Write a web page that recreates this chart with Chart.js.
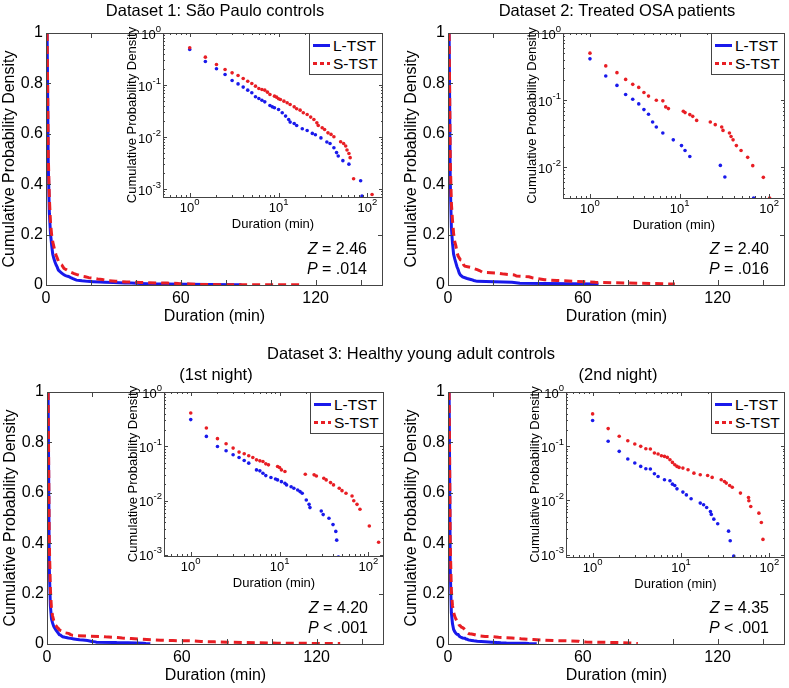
<!DOCTYPE html>
<html>
<head>
<meta charset="utf-8">
<script src="https://cdn.jsdelivr.net/npm/chart.js"></script>
<style>
  html, body { margin: 0; padding: 0; background: #fff; }
  body { width: 789px; height: 688px; position: relative; overflow: hidden; font-family: "Liberation Sans", Arial, sans-serif; }
  canvas { position: absolute; }
  .txt { position: absolute; white-space: nowrap; color: #000; line-height: 1; }
  .leg { position: absolute; width: 72px; height: 40px; border: 1px solid #444; background: #fff; }
  .leg .sw { position: absolute; left: 3px; width: 17px; height: 3px; }
  .leg .lb { position: absolute; left: 23px; font-size: 15.5px; line-height: 15px; color: #000; }
</style>
</head>
<body>
<script>
// Dataset 1: Sao Paulo controls (duration in min, cumulative probability)
const ds1LongDur  = [0.5, 1, 1.5, 2, 2.5, 3, 3.5, 4, 4.5, 5, 5.5, 6, 6.5, 7, 8, 8.5, 9, 10, 11, 12, 13, 13.5, 15, 16, 18.5, 21, 24, 26, 30, 35, 38, 42, 45, 47, 53, 62, 84, 87];
const ds1LongCpd  = [1, 0.48, 0.283, 0.205, 0.159, 0.122, 0.105, 0.091, 0.0795, 0.0707, 0.0592, 0.055, 0.051, 0.0474, 0.0403, 0.038, 0.0364, 0.0338, 0.0292, 0.0252, 0.0217, 0.0193, 0.0182, 0.0166, 0.0144, 0.0133, 0.0117, 0.011, 0.0096, 0.008, 0.0075, 0.0062, 0.005, 0.0043, 0.0035, 0.003, 0.00144, 0.00073];
const ds1ShortDur = [0.5, 1, 1.5, 2, 2.5, 3, 3.5, 4, 4.5, 5, 5.5, 6, 6.5, 7, 7.5, 8, 9, 9.5, 10, 10.5, 11.5, 12.5, 13.5, 15, 16, 17.5, 19, 21, 23, 25, 27, 28, 31, 33, 36, 39, 42, 50, 54, 57, 59, 62, 64, 70, 113];
const ds1ShortCpd = [1, 0.52, 0.343, 0.248, 0.199, 0.171, 0.152, 0.133, 0.118, 0.107, 0.095, 0.0857, 0.0819, 0.0795, 0.0728, 0.0656, 0.061, 0.0583, 0.0542, 0.0526, 0.0489, 0.0454, 0.0422, 0.038, 0.0348, 0.0328, 0.0292, 0.0271, 0.0241, 0.0217, 0.0187, 0.0166, 0.015, 0.0139, 0.012, 0.0112, 0.0101, 0.0081, 0.0075, 0.0067, 0.0056, 0.0048, 0.004, 0.00157, 0.00078];

// Dataset 2: Treated OSA patients
const ds2LongDur  = [0.5, 1, 1.5, 2, 2.5, 3, 3.5, 4, 4.5, 5, 5.5, 6.5, 8.5, 10.5, 11.5, 13, 28.5, 32, 67];
const ds2LongCpd  = [1, 0.412, 0.229, 0.166, 0.1216, 0.1035, 0.088, 0.0724, 0.0617, 0.0473, 0.0398, 0.0324, 0.0257, 0.0211, 0.0178, 0.0145, 0.0107, 0.0072, 0.0035];
const ds2ShortDur = [0.5, 1, 1.5, 2, 2.5, 3, 3.5, 4, 4.5, 5.5, 6.5, 7, 7.5, 11, 11.5, 13, 14, 15.5, 22, 25, 29.5, 30.5, 36, 37.5, 39.5, 43, 48.5, 57.5, 65.5, 86, 101];
const ds2ShortCpd = [1, 0.501, 0.324, 0.257, 0.204, 0.172, 0.155, 0.13, 0.115, 0.1, 0.0977, 0.0794, 0.075, 0.0684, 0.0653, 0.061, 0.0575, 0.05, 0.0473, 0.0432, 0.0398, 0.0355, 0.0324, 0.0288, 0.0257, 0.0211, 0.0178, 0.0141, 0.0106, 0.0071, 0.0035];

// Dataset 3, 1st night
const ds3n1LongDur  = [0.5, 1, 1.5, 2, 2.5, 3, 3.5, 4, 4.5, 5.5, 6, 6.5, 7, 8, 9, 9.5, 10.5, 11.5, 12, 13.5, 14.5, 16, 17, 18, 20, 21.5, 22, 29.5, 31, 36, 40, 43, 44, 46];
const ds3n1LongCpd  = [1, 0.31, 0.152, 0.0993, 0.0826, 0.0697, 0.0621, 0.0547, 0.0488, 0.0367, 0.0352, 0.0318, 0.0288, 0.0265, 0.025, 0.024, 0.0223, 0.0208, 0.0194, 0.018, 0.0168, 0.0156, 0.0146, 0.0136, 0.0102, 0.0085, 0.0074, 0.0064, 0.0055, 0.0047, 0.0036, 0.0027, 0.00186, 0.00091];
const ds3n1ShortDur = [0.5, 1, 1.5, 2, 2.5, 3, 3.5, 4, 4.5, 5, 5.5, 6, 6.5, 7, 7.5, 9.5, 10, 10.5, 11.5, 19.5, 24.5, 26, 31.5, 33.5, 37.5, 40.5, 47, 50.5, 56, 65.5, 68.5, 74.5, 80.5, 102.5, 130.5];
const ds3n1ShortCpd = [1, 0.411, 0.217, 0.138, 0.111, 0.0925, 0.078, 0.0726, 0.0667, 0.0621, 0.0562, 0.0539, 0.0524, 0.0474, 0.0454, 0.0423, 0.0406, 0.0367, 0.0342, 0.0305, 0.0297, 0.0284, 0.0257, 0.024, 0.0214, 0.0194, 0.0168, 0.0152, 0.0136, 0.0121, 0.0099, 0.0085, 0.0069, 0.0034, 0.0017];

// Dataset 3, 2nd night
const ds3n2LongDur  = [0.5, 1, 1.5, 2, 2.5, 3, 3.5, 4, 4.5, 5, 5.5, 6.5, 7.5, 8, 8.5, 9, 10.5, 11.5, 13, 16.5, 18, 19.5, 21.5, 22, 23.5, 26, 34.5, 36, 39.5];
const ds3n2LongCpd  = [1, 0.297, 0.123, 0.0802, 0.0578, 0.0488, 0.0423, 0.0383, 0.0378, 0.031, 0.0276, 0.024, 0.023, 0.0199, 0.0188, 0.0163, 0.0142, 0.0126, 0.0107, 0.0089, 0.0083, 0.0074, 0.0062, 0.0055, 0.0045, 0.0037, 0.0027, 0.0018, 0.00094];
const ds3n2ShortDur = [0.5, 1, 1.5, 2, 2.5, 3, 3.5, 4, 4.5, 5, 5.5, 6, 6.5, 7, 7.5, 8, 8.5, 9, 9.5, 10.5, 12, 14, 16.5, 20, 22.5, 28.5, 31, 32.5, 35.5, 38, 47, 58, 58.5, 61.5, 76, 81, 84.5];
const ds3n2ShortCpd = [1, 0.394, 0.211, 0.152, 0.126, 0.1097, 0.0993, 0.0899, 0.0886, 0.0747, 0.0716, 0.0667, 0.0648, 0.0621, 0.0562, 0.0502, 0.0454, 0.0423, 0.0406, 0.0394, 0.0367, 0.0318, 0.0297, 0.0288, 0.0265, 0.024, 0.0223, 0.0208, 0.0188, 0.0175, 0.0136, 0.0113, 0.0098, 0.0077, 0.0058, 0.0039, 0.0019];

const seriesNames = ['L-TST', 'S-TST'];
const panelTitles = ['Dataset 1: São Paulo controls', 'Dataset 2: Treated OSA patients', '(1st night)', '(2nd night)'];
const groupTitle = 'Dataset 3: Healthy young adult controls';
const zValues = ['2.46', '2.40', '4.20', '4.35'];
const pValues = ['= .014', '= .016', '< .001', '< .001'];

const mainXLabels = [0, 60, 120];
const mainXMarks = [0, 20, 40, 60, 80, 100, 120, 140];
const mainYTicks = [0, 0.2, 0.4, 0.6, 0.8, 1];

const BLUE = 'rgb(25,25,235)';
const RED = 'rgb(232,30,36)';
const AXIS = '#444';
const FONT = '"Liberation Sans", Arial, sans-serif';

const panels = [
  { long: [ds1LongDur, ds1LongCpd], short: [ds1ShortDur, ds1ShortCpd], yMin: 7e-4,
    main: {l: 46, t: 33, r: 383, b: 285}, inset: {l: 163, t: 33, r: 383, b: 197} },
  { long: [ds2LongDur, ds2LongCpd], short: [ds2ShortDur, ds2ShortCpd], yMin: 0.0035,
    main: {l: 448, t: 33, r: 785, b: 285}, inset: {l: 563, t: 33, r: 785, b: 198} },
  { long: [ds3n1LongDur, ds3n1LongCpd], short: [ds3n1ShortDur, ds3n1ShortCpd], yMin: 9.5e-4,
    main: {l: 47, t: 392, r: 384, b: 644}, inset: {l: 164, t: 392, r: 384, b: 556} },
  { long: [ds3n2LongDur, ds3n2LongCpd], short: [ds3n2ShortDur, ds3n2ShortCpd], yMin: 9e-4,
    main: {l: 448, t: 392, r: 785, b: 644}, inset: {l: 566, t: 392, r: 785, b: 557} }
];

const toXY = (xs, ys) => xs.map((x, i) => ({x: x, y: ys[i]}));

function addCanvas(left, top, w, h) {
  const c = document.createElement('canvas');
  c.width = w; c.height = h;
  c.style.left = left + 'px'; c.style.top = top + 'px';
  c.style.width = w + 'px'; c.style.height = h + 'px';
  document.body.appendChild(c);
  return c.getContext('2d');
}

function addText(html, x, y, size, align) {
  const d = document.createElement('div');
  d.className = 'txt';
  d.innerHTML = html;
  d.style.fontSize = size + 'px';
  d.style.top = (y - size / 2) + 'px';
  if (align === 'center') { d.style.left = x + 'px'; d.style.transform = 'translateX(-50%)'; }
  else if (align === 'right') { d.style.right = (789 - x) + 'px'; }
  else { d.style.left = x + 'px'; }
  document.body.appendChild(d);
}

function logTicks(min, max) {
  const out = [];
  for (let e = -4; e <= 3; e++) {
    for (let k = 1; k <= 9; k++) {
      const v = k * Math.pow(10, e);
      if (v >= min * 0.999 && v <= max * 1.001) out.push({v: v, major: k === 1, e: e});
    }
  }
  return out;
}

// box round the plot area, inward tick marks, and 10^n labels for the insets
function framePlugin(opt) {
  return {
    id: 'frame',
    beforeDraw(chart) {
      if (!opt.fill) return;
      const {ctx, chartArea: a} = chart;
      ctx.save();
      ctx.fillStyle = '#fff';
      ctx.fillRect(a.left, a.top, a.right - a.left, a.bottom - a.top);
      ctx.restore();
    },
    afterDraw(chart) {
      const {ctx, chartArea: a, scales} = chart;
      const xs = scales.x, ys = scales.y;
      ctx.save();
      ctx.strokeStyle = AXIS;
      ctx.lineWidth = 1;
      ctx.beginPath();
      opt.xTicks.forEach(t => {
        const px = Math.round(xs.getPixelForValue(t.v)) + 0.5;
        const len = t.major ? opt.major : opt.minor;
        ctx.moveTo(px, a.bottom); ctx.lineTo(px, a.bottom - len);
        ctx.moveTo(px, a.top); ctx.lineTo(px, a.top + len);
      });
      opt.yTicks.forEach(t => {
        const py = Math.round(ys.getPixelForValue(t.v)) + 0.5;
        const len = t.major ? opt.major : opt.minor;
        ctx.moveTo(a.left, py); ctx.lineTo(a.left + len, py);
        ctx.moveTo(a.right, py); ctx.lineTo(a.right - len, py);
      });
      ctx.stroke();
      ctx.strokeRect(Math.round(a.left) + 0.5, Math.round(a.top) + 0.5,
        Math.round(a.right - a.left) - 1, Math.round(a.bottom - a.top));
      if (opt.pow) {
        ctx.fillStyle = '#000';
        ctx.textBaseline = 'middle';
        ctx.textAlign = 'left';
        const drawPow = (exp, x, y, align) => {
          ctx.font = '13px ' + FONT;
          const bw = ctx.measureText('10').width;
          ctx.font = '9.5px ' + FONT;
          const ew = ctx.measureText(exp).width;
          const x0 = align === 'center' ? x - (bw + ew) / 2 : x - bw - ew;
          ctx.font = '13px ' + FONT;
          ctx.fillText('10', x0, y);
          ctx.font = '9.5px ' + FONT;
          ctx.fillText(exp, x0 + bw, y - 6);
        };
        opt.xTicks.filter(t => t.major).forEach(t => {
          drawPow(String(t.e), xs.getPixelForValue(t.v), a.bottom + 11, 'center');
        });
        opt.yTicks.filter(t => t.major).forEach(t => {
          drawPow(String(t.e), a.left - 2, ys.getPixelForValue(t.v) + 2, 'right');
        });
      }
      ctx.restore();
    }
  };
}

function mainChart(p) {
  const m = p.main;
  const left = m.l - 46, top = m.t - 33;
  const ctx = addCanvas(left, top, m.r - left + 6, m.b - top + 45);
  new Chart(ctx, {
    type: 'line',
    data: {
      datasets: [
        { label: seriesNames[0], data: toXY(p.long[0], p.long[1]), borderColor: BLUE, borderWidth: 3,
          pointRadius: 0, fill: false, tension: 0, order: 2 },
        { label: seriesNames[1], data: toXY(p.short[0], p.short[1]), borderColor: RED, borderWidth: 3,
          borderDash: [8, 5], pointRadius: 0, fill: false, tension: 0, order: 1 }
      ]
    },
    options: {
      responsive: false,
      animation: false,
      devicePixelRatio: 1,
      layout: { padding: { top: 33, right: 6, left: 0, bottom: 0 } },
      plugins: { legend: { display: false }, tooltip: { enabled: false } },
      scales: {
        x: {
          type: 'linear', min: 0, max: 150, bounds: 'data',
          grid: { display: false, drawTicks: false }, border: { display: false },
          afterBuildTicks: s => { s.ticks = mainXLabels.map(v => ({value: v})); },
          afterFit: s => { s.height = 45; },
          ticks: { color: '#000', font: { family: FONT, size: 16 }, padding: 4, maxRotation: 0,
                   autoSkip: false, callback: v => String(v) },
          title: { display: true, text: 'Duration (min)', color: '#000',
                   font: { family: FONT, size: 16 }, padding: { top: 0, bottom: 4 } }
        },
        y: {
          type: 'linear', min: 0, max: 1, bounds: 'data',
          grid: { display: false, drawTicks: false }, border: { display: false },
          afterBuildTicks: s => { s.ticks = mainYTicks.map(v => ({value: v})); },
          afterFit: s => { s.width = 46; },
          ticks: { color: '#000', font: { family: FONT, size: 16 }, padding: 3, autoSkip: false,
                   callback: v => String(Math.round(v * 10) / 10) },
          title: { display: true, text: 'Cumulative Probability Density', color: '#000',
                   font: { family: FONT, size: 16 }, padding: { top: 0, bottom: 0 } }
        }
      }
    },
    plugins: [framePlugin({
      fill: false, major: 5, minor: 5, pow: false,
      xTicks: mainXMarks.map(v => ({v: v, major: true})),
      yTicks: mainYTicks.map(v => ({v: v, major: true}))
    })]
  });
}

function insetChart(p) {
  const a = p.inset;
  const left = a.l - 45, top = a.t - 8;
  const ctx = addCanvas(left, top, a.r - left + 7, a.b - top + 38);
  new Chart(ctx, {
    type: 'scatter',
    data: {
      datasets: [
        { label: seriesNames[0], data: toXY(p.long[0], p.long[1]), backgroundColor: BLUE, borderWidth: 0,
          pointRadius: 1.8, order: 2 },
        { label: seriesNames[1], data: toXY(p.short[0], p.short[1]), backgroundColor: RED, borderWidth: 0,
          pointRadius: 1.8, order: 1 }
      ]
    },
    options: {
      responsive: false,
      animation: false,
      devicePixelRatio: 1,
      layout: { padding: { top: 8, right: 7, left: 0, bottom: 0 } },
      plugins: { legend: { display: false }, tooltip: { enabled: false } },
      scales: {
        x: {
          type: 'logarithmic', min: 0.5, max: 150,
          grid: { display: false, drawTicks: false }, border: { display: false },
          ticks: { display: false },
          afterFit: s => { s.height = 38; },
          title: { display: true, text: 'Duration (min)', color: '#000',
                   font: { family: FONT, size: 13 }, padding: { top: 0, bottom: 3 } }
        },
        y: {
          type: 'logarithmic', min: p.yMin, max: 1,
          grid: { display: false, drawTicks: false }, border: { display: false },
          ticks: { display: false },
          afterFit: s => { s.width = 45; },
          title: { display: true, text: 'Cumulative Probability Density', color: '#000',
                   font: { family: FONT, size: 13 }, padding: { top: 7, bottom: 0 } }
        }
      }
    },
    plugins: [framePlugin({
      fill: true, major: 4, minor: 2, pow: true,
      xTicks: logTicks(0.5, 150),
      yTicks: logTicks(p.yMin, 1)
    })]
  });
}

function addLegend(a) {
  const box = document.createElement('div');
  box.className = 'leg';
  box.style.left = (a.r - 74) + 'px';
  box.style.top = a.t + 'px';
  const rows = [
    { name: seriesNames[0], bg: BLUE, y: 11 },
    { name: seriesNames[1], bg: 'repeating-linear-gradient(to right, ' + RED + ' 0 4px, transparent 4px 7px)', y: 29 }
  ];
  rows.forEach(r => {
    const sw = document.createElement('div');
    sw.className = 'sw';
    sw.style.top = (r.y - 1.5) + 'px';
    sw.style.background = r.bg;
    box.appendChild(sw);
    const lb = document.createElement('div');
    lb.className = 'lb';
    lb.style.top = (r.y - 7.5) + 'px';
    lb.textContent = r.name;
    box.appendChild(lb);
  });
  document.body.appendChild(box);
}

panels.forEach((p, i) => {
  mainChart(p);
  insetChart(p);
  addLegend(p.inset);
  addText('<i>Z</i> = ' + zValues[i], p.main.r - 16, p.main.b - 36, 16, 'right');
  addText('<i>P</i> ' + pValues[i], p.main.r - 16, p.main.b - 16, 16, 'right');
});

addText(panelTitles[0], 215, 10, 16.5, 'center');
addText(panelTitles[1], 617, 10, 16.5, 'center');
addText(groupTitle, 411, 353, 16.5, 'center');
addText(panelTitles[2], 216, 374, 16.5, 'center');
addText(panelTitles[3], 618, 374, 16.5, 'center');
</script>
</body>
</html>
